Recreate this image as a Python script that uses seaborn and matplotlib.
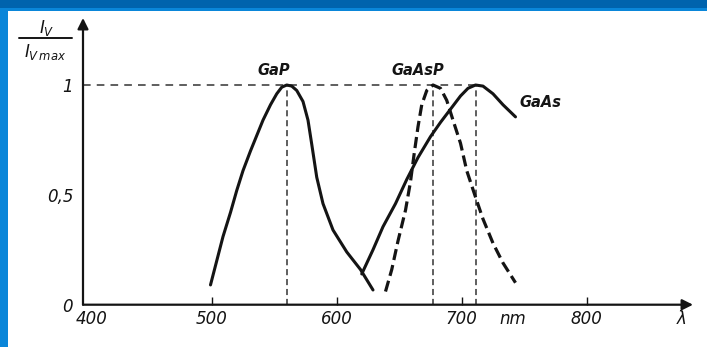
import numpy as np
import pandas as pd
import matplotlib
matplotlib.use("Agg")
import matplotlib.pyplot as plt
import seaborn as sns
from matplotlib.patches import Rectangle
from matplotlib.lines import Line2D

# --- data (nm, relative intensity) ---
gap_nm = [499, 504, 509, 515, 520, 525, 531, 536, 541, 547, 552, 556, 560,
          564, 568, 573, 577, 580, 584, 589, 597, 608, 619, 629]
gap_val = [0.09, 0.20, 0.31, 0.42, 0.52, 0.61, 0.70, 0.77, 0.84, 0.91, 0.96, 0.99, 1.0,
           0.995, 0.975, 0.925, 0.84, 0.73, 0.58, 0.46, 0.34, 0.24, 0.16, 0.067]

gaas_nm = [620, 629, 637, 647, 656, 665, 675, 683, 691, 699, 705, 711, 717, 725, 733, 743]
gaas_val = [0.14, 0.25, 0.355, 0.46, 0.57, 0.67, 0.765, 0.83, 0.89, 0.95, 0.985, 1.0,
            0.995, 0.96, 0.91, 0.855]

gaasp_nm = [639, 644, 649, 655, 659, 662, 665, 668, 672, 677, 683, 688, 693, 699,
            704, 711, 717, 725, 733, 743]
gaasp_val = [0.06, 0.16, 0.29, 0.43, 0.56, 0.69, 0.81, 0.91, 0.975, 1.0, 0.985, 0.93,
             0.84, 0.735, 0.61, 0.49, 0.39, 0.28, 0.19, 0.10]

peak_nm = [560, 677, 711]
peak_names = ["GaP", "GaAsP", "GaAs"]

# label positions on the axis (400 sits a little right of the origin in the drawing)
x_ticks = [404, 500, 600, 700, 741, 800, 876]
x_labels = ["400", "500", "600", "700", "nm", "800", "λ"]
y_ticks = [0, 0.5, 1]
y_labels = ["0", "0,5", "1"]

W, H = 707, 347
sns.set_style("ticks")
plt.rcParams['font.family'] = ['DejaVu Sans']

fig = plt.figure(figsize=(W / 100, H / 100), dpi=100)
fig.patch.set_facecolor("#0a86d9")
# frame: dark top band, white panel
fig.add_artist(Rectangle((0, 1 - 8 / H), 1, 8 / H, transform=fig.transFigure,
                         facecolor="#0063ad", edgecolor="none", zorder=0))
fig.add_artist(Rectangle((8 / W, 0), 1, (H - 11) / H, transform=fig.transFigure,
                         facecolor="white", edgecolor="none", zorder=0))

ax = fig.add_axes([83 / W, (H - 304.7) / H, (693 - 83) / W, (304.7 - 18) / H])
ax.patch.set_alpha(0)
ax.set_xlim(397, 885)
ax.set_ylim(0, 1.305)

ink = "#141414"
gap = pd.DataFrame({"nm": gap_nm, "val": gap_val})
gaas = pd.DataFrame({"nm": gaas_nm, "val": gaas_val})
gaasp = pd.DataFrame({"nm": gaasp_nm, "val": gaasp_val})

# helper lines to the peaks
for p in peak_nm:
    ax.plot([p, p], [0, 1], color="#333333", lw=1.1, ls=(0, (4, 2.5)), zorder=2)
ax.plot([397, max(peak_nm)], [1, 1], color="#333333", lw=1.1, ls=(0, (5, 4)), zorder=2)

sns.lineplot(data=gap, x="nm", y="val", ax=ax, color=ink, lw=2.2, sort=False,
             estimator=None, solid_capstyle="round", zorder=3)
sns.lineplot(data=gaas, x="nm", y="val", ax=ax, color=ink, lw=2.2, sort=False,
             estimator=None, solid_capstyle="round", zorder=3)
sns.lineplot(data=gaasp, x="nm", y="val", ax=ax, color=ink, lw=2.3, sort=False,
             estimator=None, zorder=3)
ax.lines[-1].set_linestyle((0, (3.5, 1.6)))

# curve names
lab_font = dict(fontsize=10.5, style="italic", fontweight="bold", color=ink)
ax.text(peak_nm[0] - 10, 1.03, peak_names[0], ha="center", va="bottom", **lab_font)
ax.text(peak_nm[1] - 12, 1.03, peak_names[1], ha="center", va="bottom", **lab_font)
ax.text(746, 0.92, peak_names[2], ha="left", va="center", **lab_font)

# axes with arrows
sns.despine(ax=ax, left=True, bottom=True)
ax.annotate("", xy=(1, 0), xytext=(0, 0), xycoords="axes fraction",
            arrowprops=dict(arrowstyle="-|>", color=ink, lw=1.6, mutation_scale=16,
                            shrinkA=0, shrinkB=0))
ax.annotate("", xy=(0, 1), xytext=(0, 0), xycoords="axes fraction",
            arrowprops=dict(arrowstyle="-|>", color=ink, lw=1.6, mutation_scale=16,
                            shrinkA=0, shrinkB=0))

tick_font = dict(fontsize=12, style="italic", color=ink)
ax.set_xticks(x_ticks)
ax.set_xticklabels(x_labels, **tick_font)
ax.tick_params(axis="x", direction="in", length=6, width=1.0, color=ink, pad=4)
for i, t in enumerate(ax.xaxis.get_major_ticks()):
    if x_labels[i] in ("nm", "λ", "400"):
        t.tick1line.set_visible(False)

ax.set_yticks(y_ticks)
ax.set_yticklabels(y_labels, **tick_font)
ax.tick_params(axis="y", length=0, pad=7)
ax.set_yticks([0.5], minor=True)
ax.tick_params(axis="y", which="minor", direction="out", length=6, width=1.0, color=ink)
ax.set_xlabel("")
ax.set_ylabel("")

# y-axis caption as a fraction
fig.text(47 / W, 1 - 28 / H, "$I_V$", ha="center", va="center", fontsize=12, color=ink)
fig.add_artist(Line2D([19 / W, 72 / W], [1 - 38 / H, 1 - 38 / H], transform=fig.transFigure,
                      color=ink, lw=1.4))
fig.text(45 / W, 1 - 52 / H, r"$I_{V\,max}$", ha="center", va="center", fontsize=12,
         color=ink)

fig.savefig("out.png", dpi=100, facecolor=fig.get_facecolor())
